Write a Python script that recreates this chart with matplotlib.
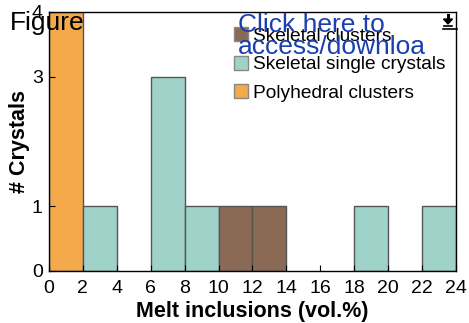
import matplotlib
matplotlib.use('Agg')
import matplotlib.pyplot as plt
from matplotlib.patches import Patch, Polygon
from matplotlib.lines import Line2D

plt.rcParams['font.family'] = ['Liberation Sans', 'DejaVu Sans']

# bin edges (vol.%) and counts per group
bin_left = [0, 2, 4, 6, 8, 10, 12, 14, 16, 18, 20, 22]
polyhedral = [4, 0, 0, 0, 0, 0, 0, 0, 0, 0, 0, 0]
skeletal_single = [0, 1, 0, 3, 1, 0, 0, 0, 0, 1, 0, 1]
skeletal_clusters = [0, 0, 0, 0, 0, 1, 1, 0, 0, 0, 0, 0]
xticks = [0, 2, 4, 6, 8, 10, 12, 14, 16, 18, 20, 22, 24]
yticks = [0, 1, 3, 4]

c_poly = '#f4aa4a'
c_single = '#9fd3ca'
c_clust = '#8b6a55'
edge = '#555555'

W, H = 469, 323
fig = plt.figure(figsize=(W / 100, H / 100), dpi=100)
ax = fig.add_axes([0.1045, 0.161, 0.8675, 0.802])

def draw(ax, counts, color, ec):
    xs = [x for x, c in zip(bin_left, counts) if c > 0]
    hs = [c for c in counts if c > 0]
    ax.bar(xs, hs, width=2, align='edge', color=color, edgecolor=ec, linewidth=1.0)

draw(ax, polyhedral, c_poly, edge)
draw(ax, skeletal_single, c_single, edge)
draw(ax, skeletal_clusters, c_clust, edge)

ax.set_xlim(0, 24)
ax.set_ylim(0, 4)
ax.set_xticks(xticks)
ax.set_yticks(yticks)
ax.tick_params(direction='in', labelsize=14, length=4)
ax.tick_params(axis='x', pad=6.5)
ax.tick_params(axis='y', pad=4.5)
for s in ax.spines.values():
    s.set_linewidth(1.0)
ax.set_xlabel('Melt inclusions (vol.%)', fontsize=15.5, fontweight='bold', labelpad=3)
ax.set_ylabel('# Crystals', fontsize=15.5, fontweight='bold', labelpad=1.5)

handles = [Patch(facecolor=c_clust, edgecolor='#888888', label='Skeletal clusters'),
           Patch(facecolor=c_single, edgecolor='#888888', label='Skeletal single crystals'),
           Patch(facecolor=c_poly, edgecolor='#888888', label='Polyhedral clusters')]
ax.legend(handles=handles, loc='upper right', frameon=False, fontsize=13.8,
          handlelength=0.75, handleheight=0.75, handletextpad=0.25,
          labelspacing=0.55, borderaxespad=0.0, bbox_to_anchor=(0.993, 0.97))

# overlay texts from the source document
fig.text(0.02, 0.93, 'Figure', fontsize=19, color='black', va='center')
fig.text(0.507, 0.888, 'Click here to\naccess/downloa', fontsize=19, color='#1a3fb0',
         va='center', linespacing=0.9)

# download icon (arrow over a bar), drawn in pixel units
def px(x, y):
    return (x / W, 1 - y / H)

fig.add_artist(Line2D([px(448, 15)[0], px(448, 20)[0]], [px(448, 15)[1], px(448, 20)[1]],
                      transform=fig.transFigure, color='black', lw=2.2))
fig.add_artist(Polygon([px(443.5, 19), px(452.5, 19), px(448, 24)], closed=True,
                       transform=fig.transFigure, color='black'))
fig.add_artist(Line2D([px(444, 0)[0], px(452, 0)[0]], [px(0, 25.5)[1]] * 2,
                      transform=fig.transFigure, color='black', lw=1.2))
fig.add_artist(Line2D([px(443, 0)[0], px(457, 0)[0]], [px(0, 28.5)[1]] * 2,
                      transform=fig.transFigure, color='black', lw=1.2))

fig.savefig('out.png', dpi=100)
